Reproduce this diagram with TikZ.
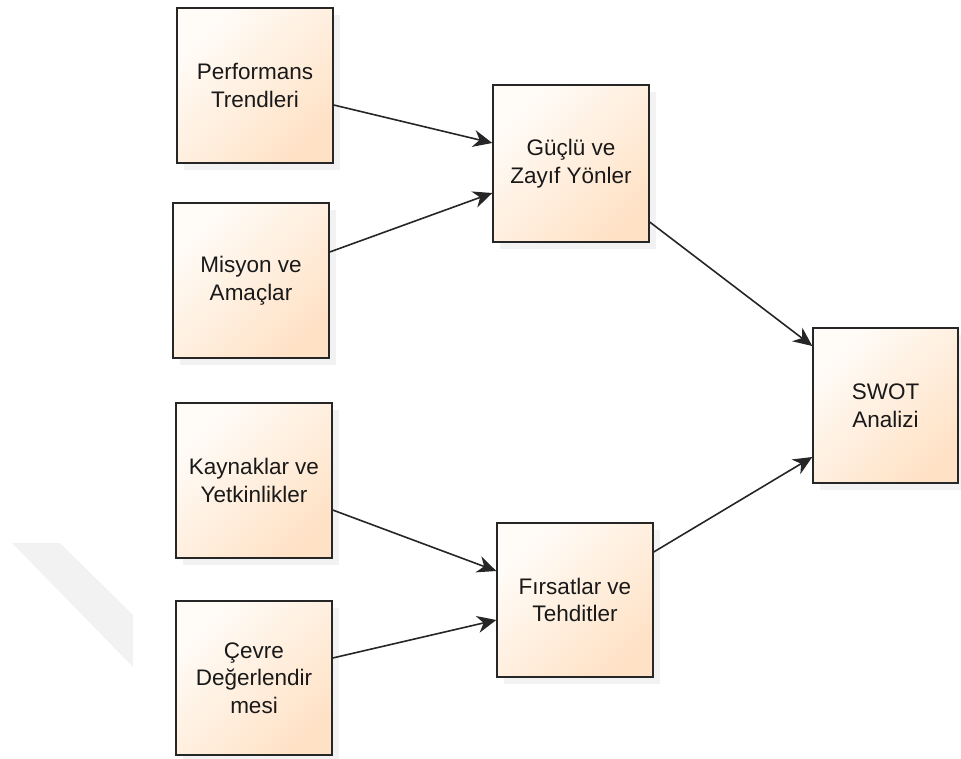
\documentclass[tikz,border=0pt]{standalone}
\usepackage{fontspec}
\setmainfont{Liberation Sans}
\usetikzlibrary{arrows.meta,shadows}
\definecolor{boxlight}{HTML}{FFFCF8}
\definecolor{boxdark}{HTML}{FFE2C6}
\definecolor{linegrey}{HTML}{262626}
\definecolor{wmgrey}{HTML}{F2F2F2}
\tikzset{
  flowbox/.style={rectangle, draw=black!85, line width=1.4pt,
    top color=boxlight, bottom color=boxdark, shading angle=45,
    minimum width=156pt, minimum height=155pt, inner sep=2pt,
    align=center, text=black!90,
    font=\fontsize{22.5}{27.5}\selectfont,
    drop shadow={shadow xshift=7pt, shadow yshift=-7pt, opacity=0.05, fill=black}},
  flowarrow/.style={draw=linegrey, line width=1.6pt,
    -{Stealth[length=19pt,width=17pt,inset=6pt]}}
}
\begin{document}
\begin{tikzpicture}[x=1pt,y=-1pt]
\useasboundingbox (0,0) rectangle (961,758);
% faint watermark band
\fill[wmgrey] (12,543) -- (60,543) -- (133,615) -- (133,667) -- cycle;

\node[flowbox] (perf) at (255,85.5) {Performans\\Trendleri};
\node[flowbox] (misy) at (251,280.5) {Misyon ve\\Amaçlar};
\node[flowbox] (kayn) at (254,480.5) {Kaynaklar ve\\Yetkinlikler};
\node[flowbox, minimum height=154pt] (cevr) at (254,678) {Çevre\\Değerlendir\\mesi};
\node[flowbox, minimum height=157pt] (gucl) at (571,163.5) {Güçlü ve\\Zayıf Yönler};
\node[flowbox, minimum height=154pt] (firs) at (575,600) {Fırsatlar ve\\Tehditler};
\node[flowbox, minimum width=145pt] (swot) at (885.5,405.5) {SWOT\\Analizi};

\draw[flowarrow] ([yshift=-19.5pt]perf.east) -- ([yshift=20.5pt]gucl.west);
\draw[flowarrow] ([yshift=28.5pt]misy.east) -- ([yshift=-29.5pt]gucl.west);
\draw[flowarrow] ([yshift=-29.5pt]kayn.east) -- ([yshift=29pt]firs.west);
\draw[flowarrow] ([yshift=20pt]cevr.east) -- ([yshift=-20pt]firs.west);
\draw[flowarrow] ([yshift=-58.5pt]gucl.east) -- ([yshift=59.5pt]swot.west);
\draw[flowarrow] ([yshift=48pt]firs.east) -- ([yshift=-51.5pt]swot.west);
\end{tikzpicture}
\end{document}
